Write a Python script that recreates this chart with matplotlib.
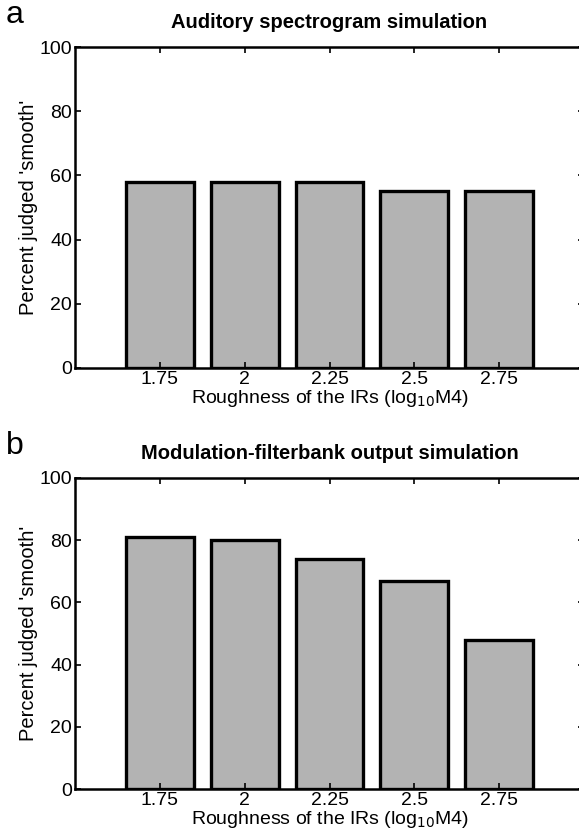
import matplotlib
matplotlib.use('Agg')
import matplotlib.pyplot as plt

# Data
roughness = [1.75, 2.0, 2.25, 2.5, 2.75]
tick_labels = ['1.75', '2', '2.25', '2.5', '2.75']
spectrogram_pct = [58, 58, 58, 55, 55]
filterbank_pct = [81, 80, 74, 67, 48]

titles = ['Auditory spectrogram simulation', 'Modulation-filterbank output simulation']
panel_letters = ['a', 'b']
panels = [spectrogram_pct, filterbank_pct]

plt.rcParams['font.family'] = ['Liberation Sans', 'DejaVu Sans']

W, H = 579, 831
fig = plt.figure(figsize=(W / 100, H / 100), dpi=100)

# axes boxes in pixels: left, top, right, bottom
boxes = [(75, 47, 584, 368), (75, 478, 584, 789)]

for letter, title, vals, (l, t, r, b) in zip(panel_letters, titles, panels, boxes):
    ax = fig.add_axes([l / W, 1 - b / H, (r - l) / W, (b - t) / H])
    ax.bar(roughness, vals, width=0.2, color='#b3b3b3', edgecolor='black', linewidth=2.4)
    ax.set_xlim(1.5, 3.0)
    ax.set_ylim(0, 100)
    ax.set_xticks(roughness)
    ax.set_xticklabels(tick_labels)
    ax.set_yticks([0, 20, 40, 60, 80, 100])
    ax.tick_params(direction='in', length=4, width=1.2, labelsize=14, pad=2,
                   top=True, right=True)
    for sp in ax.spines.values():
        sp.set_linewidth(1.8)
    ax.set_title(title, fontsize=14.5, fontweight='bold', pad=14)
    ax.set_xlabel('Roughness of the IRs (log$_{10}$M4)', fontsize=14, labelpad=0)
    ax.set_ylabel("Percent judged 'smooth'", fontsize=14.5, labelpad=1)
    fig.text(6 / W, 1 - (t - 32) / H, letter, fontsize=23, ha='left', va='center')

fig.savefig('out.png', dpi=100)
